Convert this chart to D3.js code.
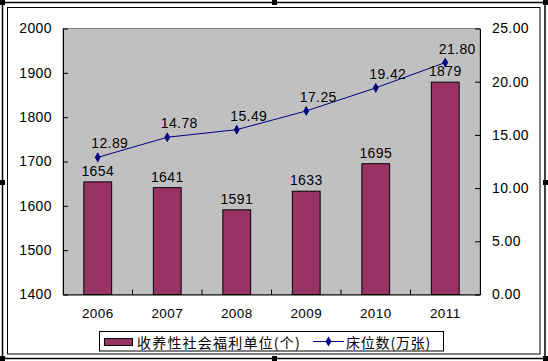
<!DOCTYPE html>
<html><head><meta charset="utf-8">
<script src="https://cdn.jsdelivr.net/npm/d3@7/dist/d3.min.js"></script>
<style>
body{margin:0;background:#fff;}
svg{display:block;}
text{font-family:"Liberation Sans",Arial,sans-serif;fill:#000;}
</style></head>
<body>
<svg id="c" width="548" height="361"></svg>
<script>
const years = ["2006","2007","2008","2009","2010","2011"];
const units = [1654,1641,1591,1633,1695,1879];
const beds = [12.89,14.78,15.49,17.25,19.42,21.80];
const leftTicks = [1400,1500,1600,1700,1800,1900,2000];
const rightTicks = [0,5,10,15,20,25];
const seriesNames = ["收养性社会福利单位(个)","床位数(万张)"];

const svg = d3.select("#c");
// outer selection frame
svg.append("rect").attr("x",2.5).attr("y",2.5).attr("width",542.5).attr("height",356).attr("fill","none").attr("stroke","#000").attr("stroke-width",1.5);
svg.append("rect").attr("x",7.5).attr("y",7.5).attr("width",532.5).attr("height",346.5).attr("fill","#fff").attr("stroke","#000").attr("stroke-width",1);
const handles=[[0,0],[272,0],[543,0],[0,180],[543,180],[0,356],[272,356],[543,356]];
svg.selectAll("rect.h").data(handles).join("rect").attr("class","h")
  .attr("x",d=>d[0]).attr("y",d=>d[1]).attr("width",5).attr("height",5).attr("fill","#000");

const L=63,R=480,T=28.5,B=294.5;
const x = d3.scaleBand().domain(years).range([L,R]).padding(0);
const yL = d3.scaleLinear().domain([1400,2000]).range([B,T]);
const yR = d3.scaleLinear().domain([0,25]).range([B,T]);

svg.append("rect").attr("x",L).attr("y",T).attr("width",R-L).attr("height",B-T).attr("fill","#c0c0c0").attr("stroke","#808080").attr("stroke-width",1);

const bw = x.bandwidth()*0.4;
svg.selectAll("rect.bar").data(units).join("rect").attr("class","bar")
  .attr("x",(d,i)=>x(years[i])+x.bandwidth()/2-bw/2)
  .attr("y",d=>yL(d)).attr("width",bw).attr("height",d=>B-yL(d))
  .attr("fill","#993366").attr("stroke","#000").attr("stroke-width",1);

const fs = "14px", ls = "0.4px";
// axes
const axL = d3.axisLeft(yL).tickValues(leftTicks).tickSizeInner(-5).tickSizeOuter(0).tickPadding(11).tickFormat(d3.format("d"));
const gL = svg.append("g").attr("transform",`translate(${L},0)`).call(axL);
const axR = d3.axisRight(yR).tickValues(rightTicks).tickSizeInner(-5).tickSizeOuter(0).tickPadding(12).tickFormat(d3.format(".2f"));
const gR = svg.append("g").attr("transform",`translate(${R},0)`).call(axR);
const axB = d3.axisBottom(x).tickSize(0).tickPadding(14);
const gB = svg.append("g").attr("transform",`translate(0,${B})`).call(axB);
svg.selectAll("line.ct").data(d3.range(1,years.length)).join("line").attr("class","ct")
  .attr("x1",i=>L+i*x.step()).attr("x2",i=>L+i*x.step()).attr("y1",B).attr("y2",B-5).attr("stroke","#000");
[gL,gR,gB].forEach(g=>{g.selectAll(".domain").attr("stroke","#000");g.selectAll("line").attr("stroke","#000");g.selectAll("text").style("font-size",fs).style("letter-spacing",ls).attr("font-family","Liberation Sans, Arial, sans-serif");});
gB.selectAll("text").style("font-size","13.5px").style("letter-spacing","0.4px");

// line
const line = d3.line().x((d,i)=>x(years[i])+x.bandwidth()/2).y(d=>yR(d));
svg.append("path").datum(beds).attr("d",line).attr("fill","none").attr("stroke","#000080").attr("stroke-width",1);
const diamond = d3.symbol().type(d3.symbolDiamond).size(30);
svg.selectAll("path.mk").data(beds).join("path").attr("class","mk")
  .attr("transform",(d,i)=>`translate(${x(years[i])+x.bandwidth()/2},${yR(d)})`)
  .attr("d",diamond).attr("fill","#000080");

// labels
svg.selectAll("text.bl").data(units).join("text").attr("class","bl")
  .attr("x",(d,i)=>x(years[i])+x.bandwidth()/2).attr("y",d=>yL(d)-6)
  .attr("text-anchor","middle").style("font-size",fs).style("letter-spacing",ls).text(d=>d);
svg.selectAll("text.ll").data(beds).join("text").attr("class","ll")
  .attr("x",(d,i)=>x(years[i])+x.bandwidth()/2+12).attr("y",d=>yR(d)-9)
  .attr("text-anchor","middle").style("font-size",fs).style("letter-spacing",ls).text(d=>d.toFixed(2));

// legend
const lg = svg.append("g");
lg.append("rect").attr("x",99.5).attr("y",331.5).attr("width",344).attr("height",19.5).attr("fill","#fff").attr("stroke","#000");
lg.append("rect").attr("x",104.5).attr("y",338.5).attr("width",28).attr("height",7).attr("fill","#993366").attr("stroke","#000");
lg.append("text").attr("x",137).attr("y",347.5).style("font-family","'Noto Sans CJK SC',sans-serif").style("font-size","14px").style("letter-spacing","1.2px").text(seriesNames[0]);
lg.append("line").attr("x1",313).attr("x2",344).attr("y1",341.5).attr("y2",341.5).attr("stroke","#000080");
lg.append("path").attr("transform","translate(328.5,341.5)").attr("d",diamond).attr("fill","#000080");
lg.append("text").attr("x",346).attr("y",347.5).style("font-family","'Noto Sans CJK SC',sans-serif").style("font-size","14px").style("letter-spacing","0.8px").text(seriesNames[1]);
</script>
</body></html>
